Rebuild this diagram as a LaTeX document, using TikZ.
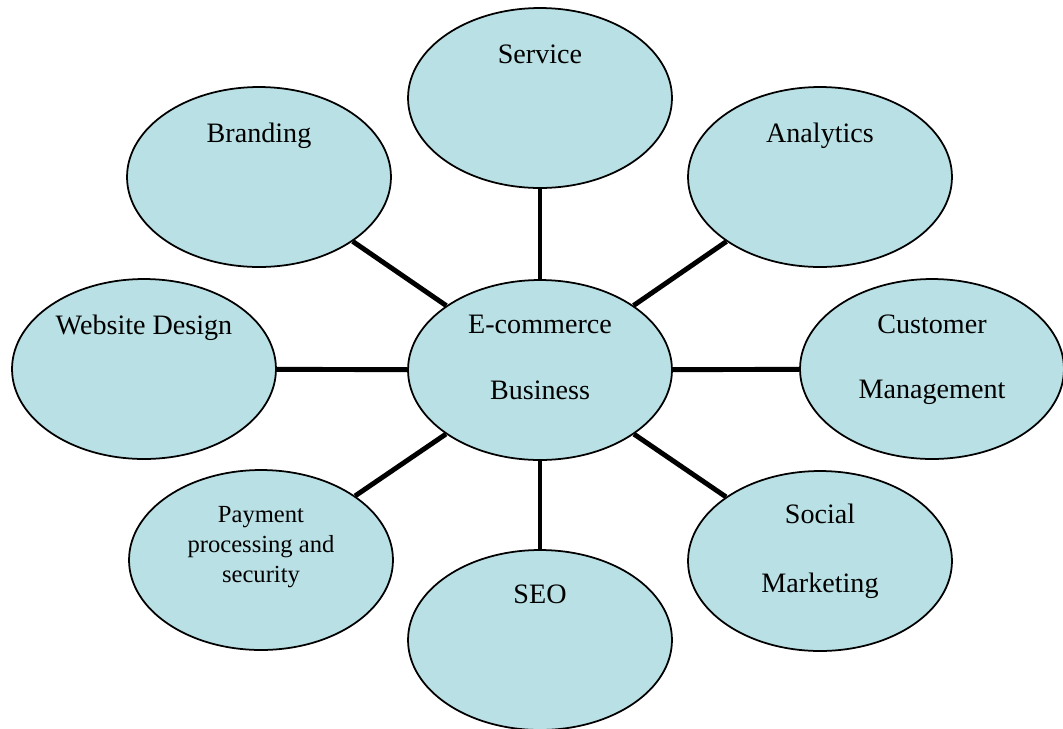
\documentclass[tikz,border=0pt]{standalone}
\usepackage{fontspec}
\setmainfont{Liberation Serif}
\usetikzlibrary{shapes.geometric, positioning}
\definecolor{azulbolha}{RGB}{185,224,228}

\begin{document}
\begin{tikzpicture}[x=0.02cm, y=-0.02cm,
	bolha/.style={ellipse, draw=black, line width=1pt, fill=azulbolha, minimum width=5.28cm, minimum height=3.6cm, inner sep=0pt},
	texto/.style={anchor=base, inner sep=0pt, font=\fontsize{16}{19}\selectfont},
	textop/.style={anchor=base, inner sep=0pt, font=\fontsize{14}{17}\selectfont},
	ligacao/.style={line width=2.8pt}]
		\useasboundingbox (0,0) rectangle (1063,728);
		
		% bolhas
		\node[bolha] (E) at (540,370) {};
		\node[bolha] (S) at (540,98) {};
		\node[bolha] (B) at (259,177) {};
		\node[bolha] (A) at (820,177) {};
		\node[bolha] (W) at (144,369) {};
		\node[bolha] (C) at (932,369) {};
		\node[bolha] (P) at (261,560) {};
		\node[bolha] (M) at (820,561) {};
		\node[bolha] (O) at (540,640) {};
		
		% ligacoes
		\draw[ligacao] (E)--(S);
		\draw[ligacao] (E)--(B);
		\draw[ligacao] (E)--(A);
		\draw[ligacao] (E)--(W);
		\draw[ligacao] (E)--(C);
		\draw[ligacao] (E)--(P);
		\draw[ligacao] (E)--(M);
		\draw[ligacao] (E)--(O);
		
		% textos
		\node[texto] (tE1) at (540,333) {E-commerce};
		\node[texto] (tE2) at (540,399) {Business};
		\node[texto] (tS) at (540,63) {Service};
		\node[texto] (tB) at (259,142) {Branding};
		\node[texto] (tA) at (820,142) {Analytics};
		\node[texto] (tW) at (144,334) {Website Design};
		\node[texto] (tC1) at (932,333) {Customer};
		\node[texto] (tC2) at (932,398) {Management};
		\node[texto] (tM1) at (820,523) {Social};
		\node[texto] (tM2) at (820,592) {Marketing};
		\node[texto] (tO) at (540,603) {SEO};
		
		% texto menor
		\node[textop] (tP1) at (261,522) {Payment};
		\node[textop] (tP2) at (261,552) {processing and};
		\node[textop] (tP3) at (261,582) {security};
\end{tikzpicture}
\end{document}
